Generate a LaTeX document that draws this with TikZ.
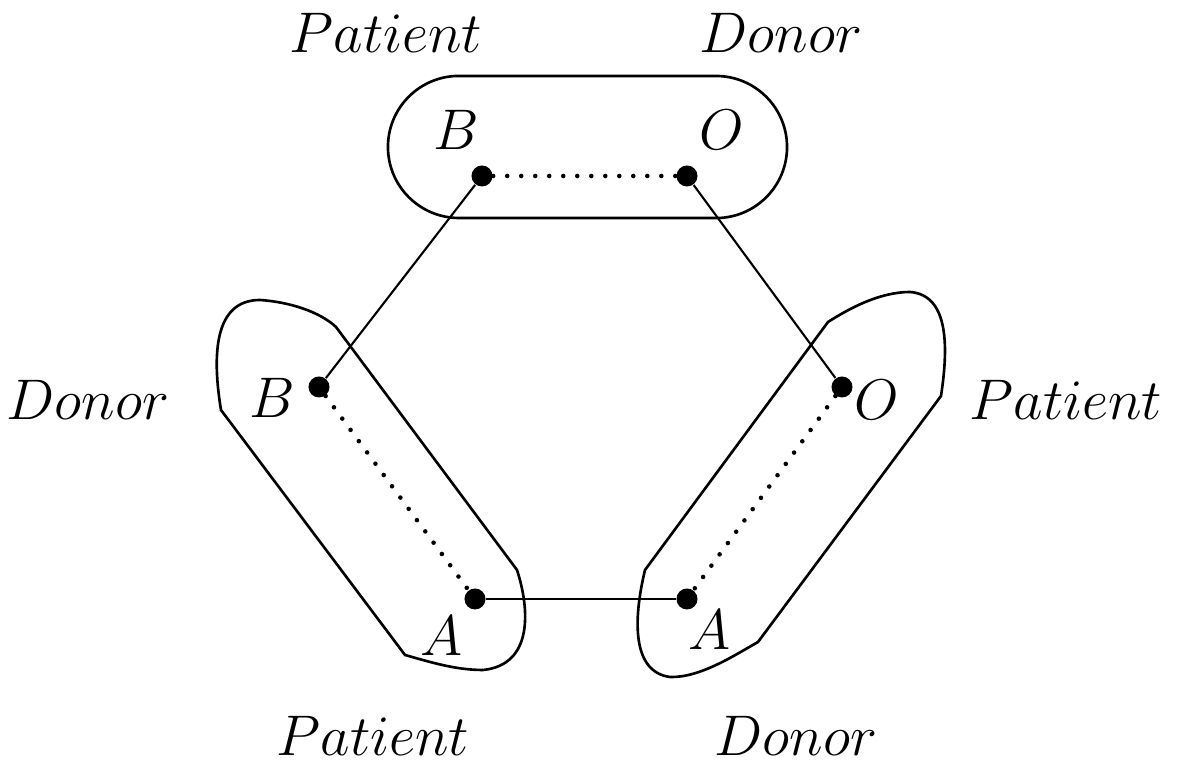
\documentclass[tikz,border=0pt]{standalone}
\newcommand\lbl[1]{\scalebox{0.943}{$#1$}}
\begin{document}
\begin{tikzpicture}[x=0.01cm,y=-0.01cm,
  dot/.style={circle,fill=black,inner sep=0pt,minimum size=0.21cm},
  lab/.style={inner sep=0pt,font=\fontsize{17.28}{20}\selectfont},
  edge/.style={line width=0.6pt},
  pair/.style={line width=1.3pt,line cap=round,dash pattern=on 0pt off 0.14cm},
  hull/.style={line width=0.75pt}]
\useasboundingbox (0,0) rectangle (1181,765);
% dots
\node[dot] (tB) at (482,176) {};
\node[dot] (tO) at (687,176) {};
\node[dot] (lB) at (319,387) {};
\node[dot] (lA) at (475,599) {};
\node[dot] (rO) at (842,387) {};
\node[dot] (rA) at (687,599) {};
% solid edges
\draw[edge] (tB) -- (lB);
\draw[edge] (tO) -- (rO);
\draw[edge] (lA) -- (rA);
% dotted pairs
\draw[pair] (tB) -- (tO);
\draw[pair] (lB) -- (lA);
\draw[pair] (rO) -- (rA);
% top hull
\draw[hull] (459,76) -- (716,76) arc[start angle=90,end angle=-90,radius=0.71cm]
  -- (459,218) arc[start angle=270,end angle=90,radius=0.71cm] -- cycle;
% left hull
\draw[hull] (221,410) .. controls (212,355) and (214,300) .. (260,300)
  .. controls (290,302) and (320,312) .. (336,327)
  -- (517,570) .. controls (530,610) and (533,665) .. (483,670)
  .. controls (455,670) and (430,662) .. (405,655) -- cycle;
% right hull
\draw[hull] (828,322) .. controls (850,308) and (880,292) .. (910,292)
  .. controls (950,295) and (948,350) .. (941,396)
  -- (758,642) .. controls (735,655) and (700,678) .. (670,677)
  .. controls (632,672) and (633,620) .. (645,570) -- cycle;
% letters
\node[lab] (lbtB) at (456,130) {\lbl{B}};
\node[lab] (lbtO) at (722,130) {\lbl{O}};
\node[lab] (lblB) at (272,398) {\lbl{B}};
\node[lab] (lblA) at (442,636) {\lbl{A}};
\node[lab] (lbrO) at (877,400) {\lbl{O}};
\node[lab] (lbrA) at (710,630) {\lbl{A}};
% roles
\node[lab] (r1) at (386,33) {\lbl{Patient}};
\node[lab] (r2) at (781,33) {\lbl{Donor}};
\node[lab] (r3) at (88,400) {\lbl{Donor}};
\node[lab] (r4) at (1066,400) {\lbl{Patient}};
\node[lab] (r5) at (373,736) {\lbl{Patient}};
\node[lab] (r6) at (796,736) {\lbl{Donor}};
\end{tikzpicture}
\end{document}
